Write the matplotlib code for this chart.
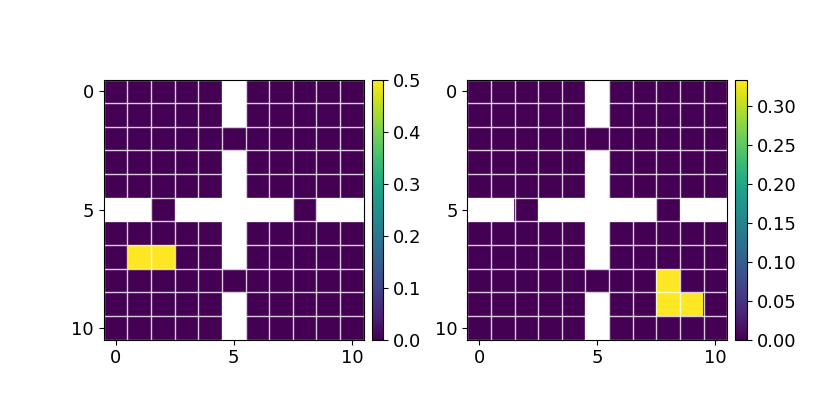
import numpy as np
import matplotlib
matplotlib.use("Agg")
import matplotlib.pyplot as plt
from mpl_toolkits.axes_grid1 import make_axes_locatable

plt.rcParams['font.size'] = 13

# grid size and cells that hold no value (the white cross)
n = 11
nan_row = 5
nan_col = 5
kept_in_row = [2, 8]   # columns kept in row 5
kept_in_col = [2, 8]   # rows kept in column 5

# hot cells of each panel: (row, col) and their value
left_cells = [(7, 1), (7, 2)]
left_value = 0.5
right_cells = [(8, 8), (9, 8), (9, 9)]
right_value = 1 / 3


def make_grid(cells, value):
    g = np.zeros((n, n))
    g[nan_row, :] = np.nan
    g[:, nan_col] = np.nan
    for c in kept_in_row:
        g[nan_row, c] = 0.0
    for r in kept_in_col:
        g[r, nan_col] = 0.0
    for r, c in cells:
        g[r, c] = value
    return g


fig, axes = plt.subplots(1, 2, figsize=(8.3, 4.15), dpi=100)
fig.subplots_adjust(wspace=0.3)

for ax, (cells, val) in zip(axes, [(left_cells, left_value), (right_cells, right_value)]):
    data = make_grid(cells, val)
    im = ax.imshow(data, cmap='viridis', vmin=0, vmax=val)
    ax.set_xticks([0, 5, 10])
    ax.set_yticks([0, 5, 10])
    ax.set_xticks(np.arange(-0.5, n, 1), minor=True)
    ax.set_yticks(np.arange(-0.5, n, 1), minor=True)
    ax.grid(which='minor', color='white', linewidth=1, alpha=0.8)
    ax.tick_params(which='minor', length=0)
    div = make_axes_locatable(ax)
    cax = div.append_axes('right', size='4.5%', pad=0.08)
    fig.colorbar(im, cax=cax)

fig.savefig('out.png')
